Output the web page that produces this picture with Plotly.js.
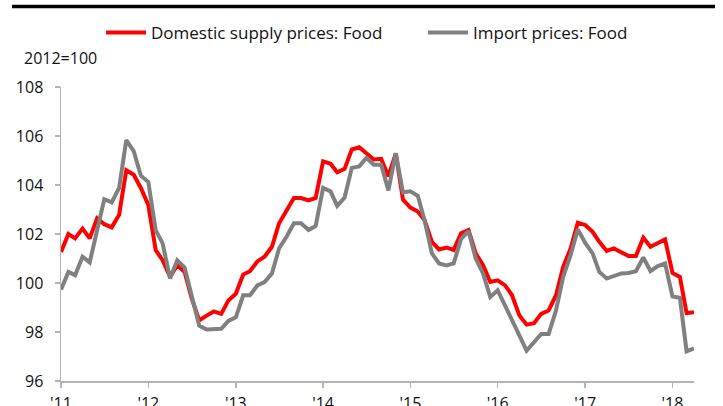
<!DOCTYPE html>
<html>
<head>
<meta charset="utf-8">
<script src="https://cdn.plot.ly/plotly-3.0.1.min.js"></script>
<style>
html,body{margin:0;padding:0;background:#fff;}
#chart{width:723px;height:406px;}
</style>
</head>
<body>
<div id="chart"></div>
<script>
// Monthly data, Jan 2011 - Apr 2018 (index 2012=100)
const startYear = 2011;
const seriesNames = ["Domestic supply prices: Food", "Import prices: Food"];
const domesticFood = [
  101.27,102.0,101.82,102.22,101.82,102.64,102.4,102.27,102.78,104.6,104.42,103.88,
  103.19,101.34,100.93,100.25,100.73,100.45,99.36,98.47,98.67,98.84,98.74,99.29,
  99.56,100.35,100.48,100.88,101.07,101.48,102.44,102.99,103.47,103.47,103.37,103.47,
  104.97,104.87,104.52,104.66,105.45,105.54,105.29,105.04,105.07,104.35,105.29,103.40,
  103.08,102.92,102.57,101.68,101.37,101.45,101.35,102.03,102.16,101.21,100.73,100.04,
  100.11,99.9,99.5,98.67,98.30,98.36,98.74,98.88,99.5,100.66,101.41,102.46,
  102.37,102.09,101.68,101.31,101.41,101.27,101.1,101.1,101.85,101.48,101.64,101.78,
  100.41,100.25,98.77,98.81
];
const importFood = [
  99.73,100.45,100.32,101.07,100.84,102.1,103.42,103.29,103.88,105.83,105.38,104.38,
  104.12,102.16,101.62,100.18,100.93,100.63,99.43,98.26,98.1,98.13,98.13,98.45,
  98.6,99.5,99.5,99.9,100.04,100.39,101.41,101.89,102.44,102.44,102.16,102.33,
  103.88,103.74,103.15,103.49,104.70,104.76,105.11,104.83,104.83,103.78,105.29,103.70,
  103.74,103.56,102.57,101.21,100.8,100.72,100.8,101.8,102.12,101.0,100.39,99.43,
  99.7,99.08,98.47,97.85,97.24,97.58,97.92,97.92,98.88,100.25,101.14,102.19,
  101.64,101.21,100.45,100.18,100.27,100.39,100.41,100.48,101.04,100.49,100.69,100.8,
  99.45,99.4,97.21,97.33
];
const xTickVals = ["2011-01-01","2012-01-01","2013-01-01","2014-01-01","2015-01-01","2016-01-01","2017-01-01","2018-01-01"];
const xTickText = ["'11","'12","'13","'14","'15","'16","'17","'18"];
const yTickVals = [96,98,100,102,104,106,108];
const yTickText = ["96","98","100","102","104","106","108"];

const months = domesticFood.map((_, i) => {
  const y = startYear + Math.floor(i / 12);
  const m = (i % 12) + 1;
  return y + "-" + (m < 10 ? "0" + m : m) + "-01";
});

const FONT = "Open Sans, Liberation Sans, sans-serif";
const axisCol = "#b4b4b4";
const legY = 1 + (87 - 33) / 294;

const traces = [
  {x: months, y: domesticFood, name: seriesNames[0], type: "scatter", mode: "lines",
   line: {color: "#ff0000", width: 4}, hoverinfo: "skip", legend: "legend"},
  {x: months, y: importFood, name: seriesNames[1], type: "scatter", mode: "lines",
   line: {color: "#808080", width: 4}, hoverinfo: "skip", legend: "legend2"}
];

const legendBase = {
  orientation: "h", xanchor: "left", y: legY, yanchor: "middle",
  font: {family: FONT, size: 17, color: "#111111"},
  bgcolor: "rgba(0,0,0,0)", borderwidth: 0, itemwidth: 40
};

const layout = {
  width: 723, height: 406,
  margin: {l: 61, r: 29, t: 87, b: 25, pad: 0, autoexpand: false},
  paper_bgcolor: "#ffffff", plot_bgcolor: "#ffffff",
  font: {family: FONT, size: 16, color: "#111111"},
  showlegend: true,
  legend: Object.assign({}, legendBase, {x: (101 - 61) / 633}),
  legend2: Object.assign({}, legendBase, {x: (423 - 61) / 633}),
  xaxis: {
    type: "date",
    range: [months[0], months[months.length - 1]],
    tickmode: "array", tickvals: xTickVals, ticktext: xTickText,
    showgrid: false, zeroline: false,
    showline: true, linecolor: axisCol, linewidth: 1.5,
    ticks: "outside", ticklen: 5, tickcolor: axisCol, tickwidth: 1.5,
    ticklabelstandoff: 2,
    tickfont: {family: FONT, size: 16, color: "#111111"},
    fixedrange: true
  },
  yaxis: {
    range: [96, 108],
    tickmode: "array", tickvals: yTickVals, ticktext: yTickText,
    showgrid: false, zeroline: false,
    showline: true, linecolor: axisCol, linewidth: 1.5,
    ticks: "outside", ticklen: 5, tickcolor: axisCol, tickwidth: 1.5,
    ticklabelstandoff: 8,
    tickfont: {family: FONT, size: 16, color: "#111111"},
    fixedrange: true
  },
  shapes: [
    {type: "line", xref: "paper", yref: "paper",
     x0: (12 - 61) / 633, x1: (715 - 61) / 633, y0: 1 + (87 - 6.5) / 294, y1: 1 + (87 - 6.5) / 294,
     line: {color: "#000000", width: 3.5}}
  ],
  annotations: [
    {text: "2012=100", xref: "paper", yref: "paper", x: (22 - 61) / 633, y: 1 + (87 - 58) / 294,
     xanchor: "left", yanchor: "middle", showarrow: false,
     font: {family: FONT, size: 16, color: "#111111"}}
  ]
};

Plotly.newPlot("chart", traces, layout, {displayModeBar: false, staticPlot: true});
</script>
</body>
</html>
